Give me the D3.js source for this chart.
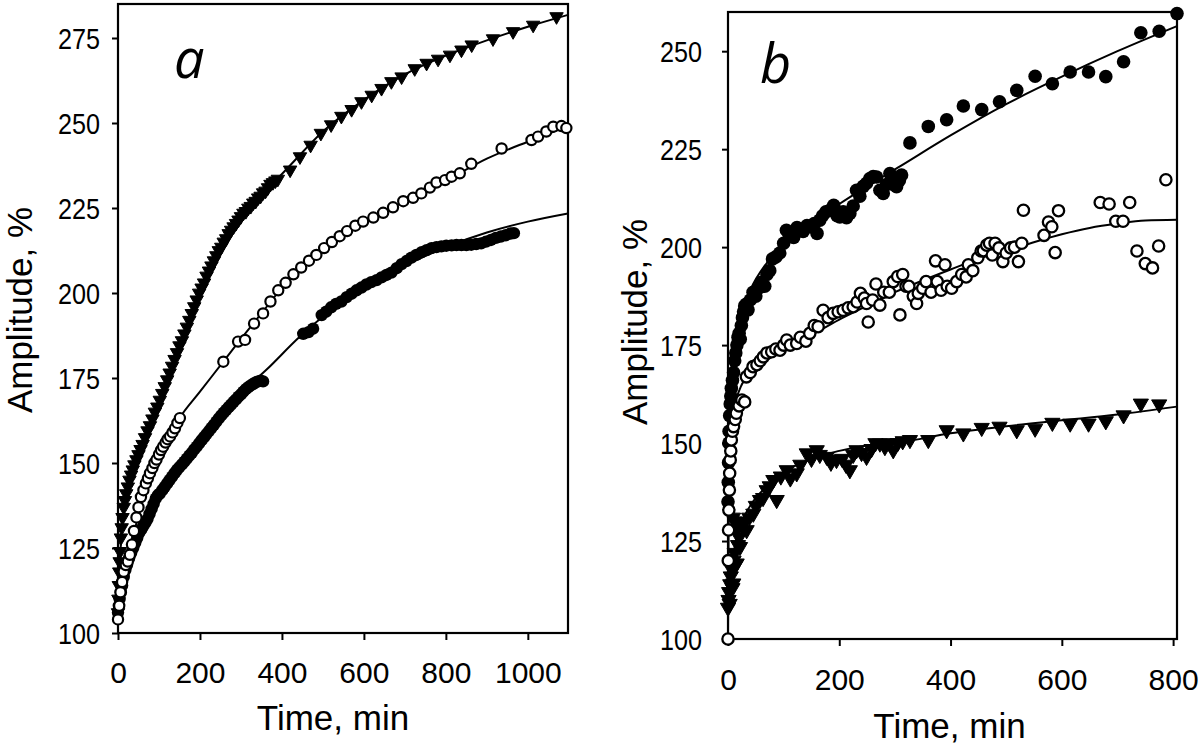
<!DOCTYPE html>
<html><head><meta charset="utf-8">
<script src="https://cdn.jsdelivr.net/npm/d3@7"></script>
<style>html,body{margin:0;padding:0;background:#fff;}svg{display:block;}</style>
</head><body>
<svg id="chart" width="1200" height="751"></svg>
<script>
// ---------- Panel a data ----------
const aXTicks = [0, 200, 400, 600, 800, 1000];
const aYTicks = [100, 125, 150, 175, 200, 225, 250, 275];
const aTriangles = [[0,106],[1,110],[2,114],[3,118],[4,121],[5,124],[7,128],[9,131],[11,134],[14,137],[17,139],[20,141],[24,143],[28,145],[32,146.5],[36,148],[40,149.5],[45,151],[50,152.5],[55,154],[60,155.5],[66,157.5],[72,159.5],[78,161],[84,163],[90,165],[96,166.5],[102,168.5],[108,170.5],[114,172.5],[120,174.5],[126,176.5],[132,178.5],[138,180.5],[144,182.5],[150,184.5],[156,186],[162,188],[168,190],[174,192],[180,194],[186,196],[192,198],[198,200],[204,201.5],[210,203],[216,205],[222,206.5],[228,208],[234,209.5],[240,211],[246,212.5],[252,213.5],[258,215],[264,216],[270,217.5],[276,218.5],[282,219.5],[288,220.5],[294,221.5],[300,222.5],[306,223.5],[312,224],[318,225],[324,225.5],[330,226.5],[336,227],[342,228],[348,228.5],[354,229.5],[360,230],[366,231],[372,232],[378,232.5],[384,233],[390,233.5],[420,236.2],[444,240.1],[470,243.5],[495,247],[520,249.5],[545,252],[570,254],[594,256.3],[619,258.2],[643,260.2],[667,262.2],[692,263.6],[724,266],[753,267.6],[781,268.8],[810,270],[838,271.5],[863,273],[915,274.8],[964,276.9],[1013,278.8],[1070,281.3]];
const aOpen = [[0,104],[3,108],[6,112],[10,115],[14,118],[19,120],[24,121],[29,123],[34,126],[39,130],[45,134],[50,137],[56,140],[62,142],[68,144],[73,145.5],[78,147],[84,148.5],[89,150],[94,151],[100,152.5],[105,153.8],[110,154.8],[116,156],[121,157],[127,157.8],[133,159],[139,160.2],[145,161.8],[151,163.2],[257,179.8],[293,185.7],[310,186.2],[332,191],[354,194],[372,197.5],[391,200.8],[409,203],[428,205.5],[447,207.5],[466,209.5],[484,211.2],[503,213.2],[522,215],[541,216.7],[559,218.2],[579,219.8],[598,221],[623,222.2],[647,223.6],[671,225.2],[696,227],[720,228],[740,229.3],[761,231],[777,232.5],[798,233.2],[814,234.2],[834,235.2],[862,238],[936,242.5],[1009,245],[1025,246],[1045,247.5],[1062,248.9],[1082,249.1],[1094,248.5]];
const aFilled = [[0,106],[2,108],[4,110],[7,112],[10,114],[14,116.5],[18,118.5],[22,120],[27,122],[32,123.5],[37,125],[42,126.5],[47,128],[52,129.5],[57,130.5],[62,131.5],[67,132.5],[72,133.5],[77,135],[82,136.5],[87,138],[92,139.5],[97,140.5],[102,141],[108,142],[114,143],[120,144],[126,145],[132,146],[138,147],[144,148],[150,148.8],[156,149.6],[162,150.4],[168,151.3],[174,152.2],[180,153],[186,154],[192,154.8],[198,155.8],[204,156.7],[210,157.6],[216,158.5],[222,159.4],[228,160.3],[234,161.2],[240,162.2],[246,163.1],[252,164],[258,164.8],[264,165.6],[270,166.4],[276,167.2],[282,168],[288,168.7],[294,169.5],[300,170.2],[306,171],[312,171.7],[318,172.3],[324,172.8],[330,173.3],[336,173.7],[342,174],[348,174.2],[354,174],[452,188],[465,188.5],[476,189.5],[497,193.5],[508,194.5],[520,195.8],[532,196.8],[545,197.5],[558,198.8],[570,199.8],[582,200.8],[594,201.6],[606,202.5],[618,203.2],[631,203.8],[643,204.6],[655,205.3],[667,206],[680,207.3],[692,208.5],[704,209.4],[716,210.4],[728,211.2],[741,212],[753,212.6],[765,213.2],[777,213.5],[789,213.7],[801,213.9],[814,214],[826,214.1],[838,214.1],[850,214.1],[862,214.2],[874,214.4],[886,214.6],[898,215.1],[910,215.6],[922,216.2],[934,216.6],[946,217],[958,217.5],[966,217.6]];
const aFitTriangles = [[0,104],[5,122],[20,140],[50,152.5],[100,168],[150,184.5],[200,200.5],[250,213],[300,222],[350,229],[400,235],[500,247.5],[600,256.8],[700,264.3],[800,269.8],[900,274.3],[1000,278.3],[1098,281.8]];
const aFitOpen = [[0,103],[10,113],[30,124],[60,140],[100,152],[150,163.2],[200,171],[257,179.8],[300,186.5],[350,194],[400,201.5],[450,207.8],[500,213],[600,220.8],[700,227],[800,233],[900,239.5],[1000,244.5],[1098,249]];
const aFitFilled = [[0,104],[10,113],[30,122],[60,131],[100,140],[150,148.5],[200,156],[250,163.5],[300,170.5],[362,177.4],[444,187.2],[500,193],[600,201],[700,208],[800,213.5],[900,217.8],[1000,221],[1098,223.4]];

// ---------- Panel b data ----------
const bXTicks = [0, 200, 400, 600, 800];
const bYTicks = [100, 125, 150, 175, 200, 225, 250];
const bFilled = [[0,135],[0.5,140],[1,145],[1.5,150],[2,153],[3,157],[4,160],[5,162],[6,164],[8,166],[10,168],[12,171],[14,173],[16,175],[18,177],[20,178],[22,176.5],[24,180],[26,182],[28,183.5],[30,185],[33,185.5],[36,184],[40,186.5],[45,188.5],[50,187.5],[55,189.5],[60,191],[66,190],[70,193],[75,194],[80,197],[86,197.5],[93,198.5],[100,201],[105,204.3],[110,203],[118,202.5],[124,205],[129,204.3],[135,204],[142,205.5],[147,205.2],[155,206],[160,203.5],[165,206.9],[170,208],[176,209],[183,209.4],[190,210.7],[196,208],[201,207.7],[207,209],[213,207.5],[219,208.6],[225,210.5],[231,214.5],[237,213],[243,215.5],[249,216.3],[255,217.5],[261,218],[267,217.9],[273,214.5],[279,213.7],[285,216],[291,218.8],[297,216],[303,215.4],[308,217],[312,218.4],[327,226.6],[360,230.8],[393,232.5],[423,236],[456,235.1],[488,237.1],[519,240],[552,243.6],[583,241.7],[615,244.7],[648,244.7],[679,243.5],[711,247.3],[742,254.7],[775,255.1],[807,259.6]];
const bOpen = [[0,100],[0.5,120],[1,127.8],[1.5,132.9],[2.5,138],[3,142.3],[4,145.7],[5,148],[6,150.8],[8,153],[10,154.2],[13,156],[15,157.6],[20,159.5],[25,161],[30,160.5],[33,166.9],[40,168],[45,169.5],[52,170],[58,171],[63.5,172],[70,173],[78.5,173.3],[86,174],[93.5,173.7],[100,175],[105.5,176.3],[112,175],[123.5,175.4],[130,177],[140,176],[147,178],[155,180],[162,179.7],[171,183.9],[180,182],[189,183.1],[198,183.5],[207,183.9],[216,184.5],[225,184.8],[232,186],[238,188.2],[245,187],[249,185.6],[252,180.9],[260,186.5],[266,190.6],[273,185.2],[280,188.5],[290,188.5],[297,191.2],[305,192.5],[309,182.7],[314,193],[320,190],[325,190],[333,187.5],[339,185.6],[342,188.2],[350,189.5],[356,191.2],[365,188.5],[373,196.5],[376,191.2],[383,189],[390,195.5],[394,190],[402,189.5],[411,191.2],[420,193],[428,192.4],[432,195.5],[440,194],[449,197.3],[455,199],[459,199.1],[465,200.5],[470,201],[475,198],[480,201],[487,199.8],[494,196.3],[500,198.5],[508,199.8],[515,200],[522,196.3],[528,201],[531,209.4],[568,203],[576,206.4],[582,205.2],[588,198.6],[594,209.3],[669,211.4],[685,211],[697,206.6],[710,206.6],[722,211.4],[735,199],[750,195.8],[763,194.7],[774,200.3],[787,217.2]];
const bTriangles = [[0,108],[1,110],[2,112],[3,109],[4,114],[5,116],[6,118],[8,113],[9.5,114.2],[10,120],[12,122],[14,119],[15.6,119.3],[18,124],[20,126],[21.6,123.5],[9,131],[12,130],[16,128],[25,129],[30,130],[33.5,127.8],[38,131],[45.5,132],[50,134],[57.5,135.5],[63,136],[69.5,138],[75,139],[81.5,140.6],[87.5,135.5],[95,141.5],[105.5,143.1],[112,141],[123.5,142.3],[130,144.5],[141.5,147.4],[150,146],[159.5,148.2],[165,147],[177.5,146.5],[185,145],[195,145.7],[205,146],[212,144.5],[219,143.1],[225,147],[231,148.2],[240,147.5],[249,146.5],[258,148.5],[265,150],[273,149.9],[282,149],[290,150],[297,148.2],[305,150],[314,150.5],[327,150.8],[360,150.8],[393,153.3],[423,152.5],[456,153.9],[488,154.2],[519,153.3],[552,153.7],[583,155.2],[615,155],[648,155],[679,155.6],[711,157.1],[742,160.1],[775,159.9]];
const bFitFilled = [[0,150],[2,160],[5,167],[10,174],[20,181],[40,189],[70,196],[100,200.5],[150,206],[200,211],[250,215.5],[309,220.6],[400,228.5],[500,236.5],[600,243.5],[700,250],[807,256.4]];
const bFitOpen = [[0,100],[1,125],[3,140],[6,150],[10,157],[15,161],[25,165],[40,167.8],[60,170.3],[100,173.5],[150,177.5],[200,181.5],[250,185],[300,188.5],[350,191.5],[400,194.3],[450,197],[525,200.2],[600,203.3],[650,204.9],[700,206],[750,206.8],[807,207]];
const bFitTriangles = [[0,106],[2,112],[5,117],[10,122],[20,128],[40,134],[70,139],[100,142.5],[150,146],[200,148],[250,149.4],[309,150.2],[400,152.5],[500,154.3],[600,155.8],[700,157.3],[807,159.3]];

const svg = d3.select("#chart");

function panel(cfg) {
  const x = d3.scaleLinear().domain(cfg.xDomain).range([cfg.left, cfg.right]);
  const y = d3.scaleLinear().domain(cfg.yDomain).range([cfg.bottom, cfg.top]);
  const g = svg.append("g");

  // y axis ticks + labels (condensed numerals)
  const ya = g.append("g").attr("transform", `translate(${cfg.left},0)`)
    .call(d3.axisLeft(y).tickValues(cfg.yTicks).tickSize(6).tickPadding(cfg.yPad).tickFormat(d3.format("d")));
  ya.select(".domain").remove();
  ya.selectAll("line").attr("stroke", "#000").attr("stroke-width", 2);
  ya.selectAll("text").attr("font-family", "'Liberation Sans Narrow','Liberation Sans',Arial,sans-serif")
    .attr("font-size", 29).attr("fill", "#000").attr("dy", "0.36em")
    .attr("textLength", 42).attr("lengthAdjust", "spacingAndGlyphs");

  // x axis ticks + labels
  const xa = g.append("g").attr("transform", `translate(0,${cfg.bottom})`)
    .call(d3.axisBottom(x).tickValues(cfg.xTicks).tickSize(7).tickPadding(0).tickFormat(d3.format("d")));
  xa.select(".domain").remove();
  xa.selectAll("line").attr("stroke", "#000").attr("stroke-width", 2);
  xa.selectAll("text").attr("font-family", "'Liberation Sans',Arial,sans-serif")
    .attr("font-size", 30).attr("fill", "#000").attr("y", cfg.xLabelBase).attr("dy", 0);

  // frame
  g.append("rect").attr("x", cfg.left).attr("y", cfg.top)
    .attr("width", cfg.right - cfg.left).attr("height", cfg.bottom - cfg.top)
    .attr("fill", "none").attr("stroke", "#000").attr("stroke-width", 2.2);

  const line = d3.line().x(d => x(d[0])).y(d => y(d[1])).curve(d3.curveMonotoneX);
  const plot = g.append("g");
  [cfg.fitTri, cfg.fitOpen, cfg.fitFilled].forEach(f => {
    plot.append("path").datum(f).attr("d", line).attr("fill", "none")
      .attr("stroke", "#000").attr("stroke-width", 2);
  });

  const tri = d3.symbol().type(d3.symbolTriangle).size(cfg.triSize);
  plot.append("g").selectAll("path").data(cfg.tri).join("path")
    .attr("d", tri).attr("fill", "#000").attr("stroke", "#000").attr("stroke-width", 1)
    .attr("transform", d => `translate(${x(d[0])},${y(d[1])}) rotate(180)`);

  plot.append("g").selectAll("circle").data(cfg.filled).join("circle")
    .attr("cx", d => x(d[0])).attr("cy", d => y(d[1])).attr("r", cfg.r)
    .attr("fill", "#000");

  plot.append("g").selectAll("circle").data(cfg.open).join("circle")
    .attr("cx", d => x(d[0])).attr("cy", d => y(d[1])).attr("r", cfg.r - cfg.openStroke / 2)
    .attr("fill", "#fff").attr("stroke", "#000").attr("stroke-width", cfg.openStroke);

  // titles
  g.append("text").attr("x", (cfg.left + cfg.right) / 2 + cfg.xTitleShift).attr("y", cfg.xTitleBase)
    .attr("text-anchor", "middle").attr("font-family", "'Liberation Sans',Arial,sans-serif")
    .attr("font-size", 35).attr("fill", "#000").text("Time, min");
  g.append("text").attr("transform", `translate(${cfg.yTitleX},${cfg.yTitleY}) rotate(-90)`)
    .attr("text-anchor", "middle").attr("font-family", "'Liberation Sans',Arial,sans-serif")
    .attr("font-size", 35).attr("fill", "#000").text("Amplitude, %");
  g.append("text").attr("x", cfg.labX).attr("y", cfg.labY)
    .attr("font-family", "'Open Sans','Liberation Sans',sans-serif").attr("font-style", "italic")
    .attr("font-size", 54).attr("fill", "#000").text(cfg.label);
}

panel({
  xDomain: [0, 1098], yDomain: [100, 285], left: 118, right: 568, top: 4, bottom: 633,
  xTicks: aXTicks, yTicks: aYTicks, yPad: 12, xLabelBase: 50,
  tri: aTriangles, open: aOpen, filled: aFilled,
  fitTri: aFitTriangles, fitOpen: aFitOpen, fitFilled: aFitFilled,
  triSize: 78, r: 6.2, openStroke: 2.2,
  xTitleShift: -10, xTitleBase: 730, yTitleX: 32, yTitleY: 310,
  label: "a", labX: 174, labY: 78
});
panel({
  xDomain: [0, 807], yDomain: [100, 260], left: 728, right: 1177, top: 12, bottom: 639,
  xTicks: bXTicks, yTicks: bYTicks, yPad: 20, xLabelBase: 51,
  tri: bTriangles, open: bOpen, filled: bFilled,
  fitTri: bFitTriangles, fitOpen: bFitOpen, fitFilled: bFitFilled,
  triSize: 100, r: 6.8, openStroke: 2.3,
  xTitleShift: -3, xTitleBase: 738, yTitleX: 647, yTitleY: 322,
  label: "b", labX: 760, labY: 83
});
</script>
</body></html>
